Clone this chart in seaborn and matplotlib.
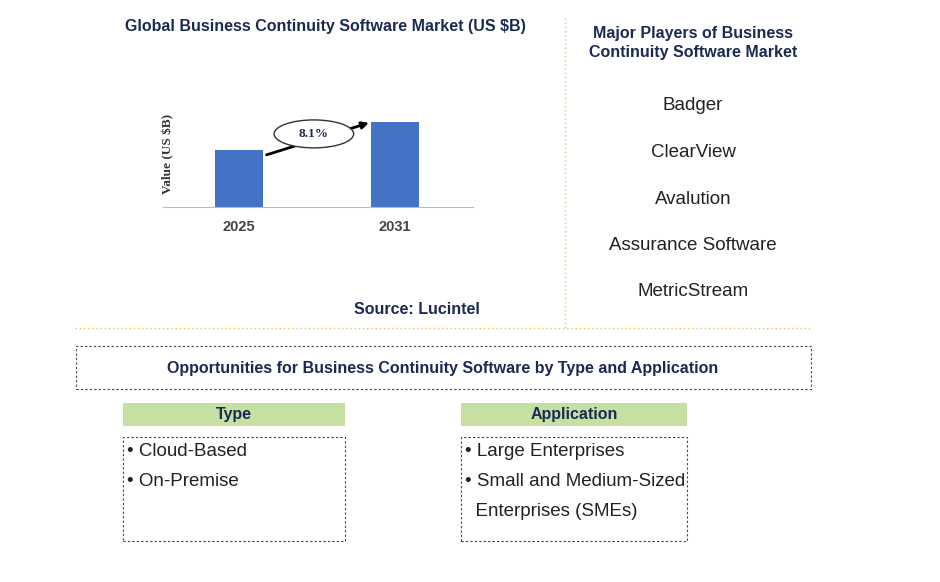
import matplotlib
matplotlib.use("Agg")
import matplotlib.pyplot as plt
from matplotlib.patches import Rectangle, Ellipse
import seaborn as sns
import pandas as pd

plt.rcParams["font.family"] = "Liberation Sans"

years = ["2025", "2031"]
values = [1.0, 1.49]
cagr = "8.1%"
players = ["Badger", "ClearView", "Avalution", "Assurance Software", "MetricStream"]
types = ["• Cloud-Based", "• On-Premise"]
applications = ["• Large Enterprises", "• Small and Medium-Sized", "  Enterprises (SMEs)"]

W, H = 940, 582
navy = "#1B2A52"
gold = "#E3C45A"
green = "#C6E0A4"

fig = plt.figure(figsize=(9.4, 5.82), dpi=100)

def fx(x):
    return x / W

def fy(y):
    return 1 - y / H

# bar chart
ax = fig.add_axes([fx(163), fy(207), fx(473) - fx(163), (207 - 100) / H])
df = pd.DataFrame({"year": years, "value": values})
sns.barplot(data=df, x="year", y="value", color="#4472C4", width=0.31, saturation=1, ax=ax)
ax.set_xlim(-0.487, 1.5)
ax.set_ylim(0, values[1] * 107 / 85)
ax.set_yticks([])
ax.set_xlabel("")
ax.set_ylabel("Value (US $B)", fontsize=9.5, fontweight="bold", color="#333333",
              fontfamily="Liberation Serif", labelpad=-8)
for s in ["top", "right", "left"]:
    ax.spines[s].set_visible(False)
ax.spines["bottom"].set_color("#BBBBBB")
ax.tick_params(axis="x", length=0, pad=9)
for t in ax.get_xticklabels():
    t.set_fontweight("bold")
    t.set_fontsize(10.5)
    t.set_color("#444444")
ax.annotate("", xy=(0.85, values[1] * 1.0), xytext=(0.16, values[0] * 0.9),
            arrowprops=dict(arrowstyle="-|>", color="black", lw=2))
ax.add_patch(Ellipse((0.48, values[1] * 0.86), 0.51, 0.49, facecolor="white", edgecolor="#333333", lw=1, zorder=5))
ax.text(0.48, values[1] * 0.86, cagr, ha="center", va="center", fontsize=9.5, fontweight="bold",
        color=navy, fontfamily="Liberation Serif", zorder=6)

fig.text(fx(325), fy(27), "Global Business Continuity Software Market (US $B)", ha="center", va="center",
         fontsize=11.5, fontweight="bold", color=navy)
fig.text(fx(417), fy(309), "Source: Lucintel", ha="center", va="center", fontsize=11.5, fontweight="bold", color=navy)

# players
fig.text(fx(693), fy(43), "Major Players of Business\nContinuity Software Market", ha="center", va="center",
         fontsize=11.5, fontweight="bold", color=navy, linespacing=1.35)
for i, p in enumerate(players):
    fig.text(fx(693), fy(106 + i * 46.5), p, ha="center", va="center", fontsize=13.5, color="#222222")

# separators
fig.add_artist(plt.Line2D([fx(565), fx(565)], [fy(18), fy(328)], color=gold, lw=1, ls=(0, (1, 2))))
fig.add_artist(plt.Line2D([fx(75), fx(810)], [fy(328), fy(328)], color=gold, lw=1, ls=(0, (1, 2))))

def box(x0, y0, x1, y1, **kw):
    fig.add_artist(Rectangle((fx(x0), fy(y1)), fx(x1) - fx(x0), (y1 - y0) / H, transform=fig.transFigure, **kw))

box(76, 346, 811, 389, fill=False, edgecolor="#444444", lw=0.8, ls=(0, (2, 2)))
fig.text(fx(443), fy(368), "Opportunities for Business Continuity Software by Type and Application",
         ha="center", va="center", fontsize=11.5, fontweight="bold", color=navy)

for (x0, x1, head, items) in [(123, 345, "Type", types), (461, 687, "Application", applications)]:
    box(x0, 403, x1, 426, facecolor=green, edgecolor="none")
    fig.text(fx((x0 + x1) / 2), fy(415), head, ha="center", va="center", fontsize=11.5, fontweight="bold", color=navy)
    box(x0, 437, x1, 541, fill=False, edgecolor="#444444", lw=0.8, ls=(0, (2, 2)))
    for i, it in enumerate(items):
        fig.text(fx(x0 + 4), fy(452 + i * 30), it, ha="left", va="center", fontsize=13.5, color="#222222")

fig.savefig("out.png", dpi=100)
